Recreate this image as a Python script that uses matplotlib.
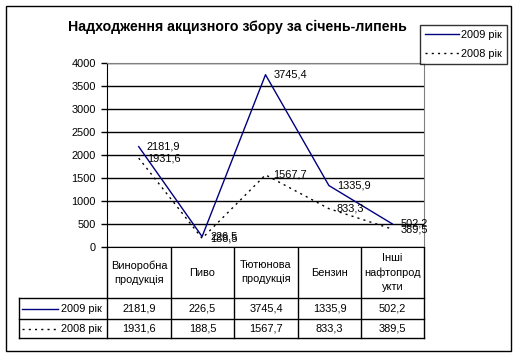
import matplotlib.pyplot as plt
from matplotlib.lines import Line2D

plt.rcParams['font.family'] = ['Liberation Sans', 'DejaVu Sans']

title = 'Надходження акцизного збору за січень-липень'
categories = ['Виноробна\nпродукція', 'Пиво', 'Тютюнова\nпродукція', 'Бензин', 'Інші\nнафтопрод\nукти']
series_names = ['2009 рік', '2008 рік']
v2009 = [2181.9, 226.5, 3745.4, 1335.9, 502.2]
v2008 = [1931.6, 188.5, 1567.7, 833.3, 389.5]
yticks = [0, 500, 1000, 1500, 2000, 2500, 3000, 3500, 4000]

W, H = 517, 357
FS = 7.9
fig = plt.figure(figsize=(W / 100, H / 100), dpi=100)

# plot area in pixel coords
px0, px1, py_top, py0 = 107, 424, 63, 247
ax = fig.add_axes([px0 / W, (H - py0) / H, (px1 - px0) / W, (py0 - py_top) / H])

# overlay in pixel coords for frame and table
ov = fig.add_axes([0, 0, 1, 1], zorder=-1)
ov.set_xlim(0, W)
ov.set_ylim(H, 0)
ov.axis('off')

def fmt(v):
    return f'{v:.1f}'.replace('.', ',')

x = list(range(len(categories)))
ax.plot(x, v2009, color='#000080', lw=1, label=series_names[0])
ax.plot(x, v2008, color='black', lw=1, ls=(0, (1.5, 3)), label=series_names[1])
for xi, v in zip(x, v2009):
    ax.annotate(fmt(v), (xi, v), xytext=(8, 0), textcoords='offset pixels',
                va='center', ha='left', fontsize=FS)
for xi, v in zip(x, v2008):
    ax.annotate(fmt(v), (xi, v), xytext=(8, 0), textcoords='offset pixels',
                va='center', ha='left', fontsize=FS)

ax.set_xlim(-0.5, len(categories) - 0.5)
ax.set_ylim(0, 4000)
ax.set_yticks(yticks)
ax.set_xticks([])
ax.yaxis.grid(True, color='black', lw=1)
ax.set_axisbelow(True)
ax.tick_params(axis='y', length=4, pad=4, labelsize=FS, width=1)
for s in ['top', 'right']:
    ax.spines[s].set_color('#808080')
for s in ['left', 'bottom']:
    ax.spines[s].set_color('black')

# outer frame
ov.add_patch(plt.Rectangle((5.5, 5.5), 505, 345, fill=False, lw=1, ec='black'))

fig.text(237 / W, 1 - 27 / H, title, ha='center', va='center',
         fontsize=10.2, fontweight='bold')

# legend
leg = fig.legend(loc='upper right', bbox_to_anchor=(507 / W, 1 - 25 / H),
                 fontsize=FS, frameon=True, fancybox=False, edgecolor='black',
                 handlelength=3.1, handletextpad=0.2, borderpad=0.45,
                 labelspacing=0.8, borderaxespad=0)
leg.get_frame().set_linewidth(1)

# data table
col_edges = [107, 171, 234, 298, 361, 424]
row_edges = [247, 298, 319, 338]
lab_left = 19
kw = dict(color='black', lw=1)
for xe in col_edges:
    ov.add_line(Line2D([xe, xe], [row_edges[0], row_edges[-1]], **kw))
ov.add_line(Line2D([lab_left, lab_left], [row_edges[1], row_edges[-1]], **kw))
for ye in row_edges[1:]:
    ov.add_line(Line2D([lab_left, col_edges[-1]], [ye, ye], **kw))

for i, c in enumerate(categories):
    cx = (col_edges[i] + col_edges[i + 1]) / 2
    ov.text(cx, (row_edges[0] + row_edges[1]) / 2, c, ha='center', va='center',
            fontsize=FS, linespacing=1.5)

styles = [dict(color='#000080', lw=1), dict(color='black', lw=1, ls=(0, (1.5, 3)))]
for r, (name, vals) in enumerate(zip(series_names, [v2009, v2008])):
    cy = (row_edges[r + 1] + row_edges[r + 2]) / 2
    ov.add_line(Line2D([22, 58], [cy, cy], **styles[r]))
    ov.text(102, cy, name, ha='right', va='center', fontsize=FS)
    for i, v in enumerate(vals):
        cx = (col_edges[i] + col_edges[i + 1]) / 2
        ov.text(cx, cy, fmt(v), ha='center', va='center', fontsize=FS)

fig.savefig('out.png', dpi=100)
